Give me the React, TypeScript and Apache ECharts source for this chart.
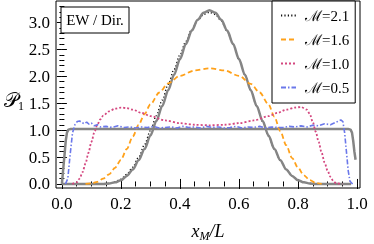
import React, { useEffect, useRef } from "react";
import * as echarts from "echarts";

// ---- data ----
const grayBellX = [0, 0.1, 0.14, 0.16, 0.18, 0.2, 0.22, 0.24, 0.26, 0.28, 0.3, 0.32, 0.34, 0.36, 0.38, 0.4, 0.42, 0.44, 0.46, 0.48, 0.5, 0.52, 0.54, 0.56, 0.58, 0.6, 0.62, 0.64, 0.66, 0.68, 0.7, 0.72, 0.74, 0.76, 0.78, 0.8, 0.82, 0.84, 0.86, 0.9, 0.98];
const grayBellY = [0, 0, 0, 0.01, 0.03, 0.07, 0.15, 0.27, 0.44, 0.65, 0.9, 1.17, 1.45, 1.74, 2.03, 2.32, 2.6, 2.85, 3.05, 3.18, 3.23, 3.18, 3.05, 2.85, 2.6, 2.32, 2.03, 1.74, 1.45, 1.17, 0.9, 0.65, 0.44, 0.27, 0.15, 0.07, 0.03, 0.01, 0, 0, 0];

const grayStepX = [0, 0.004, 0.009, 0.013, 0.017, 0.022, 0.03, 0.97, 0.978, 0.983, 0.987, 0.991, 0.995];
const grayStepY = [0, 0.25, 0.55, 0.8, 0.95, 1.01, 1.02, 1.02, 1.01, 0.95, 0.8, 0.6, 0.45];

const m21X = [0.12, 0.16, 0.18, 0.2, 0.22, 0.24, 0.26, 0.28, 0.3, 0.32, 0.34, 0.36, 0.38, 0.4, 0.42, 0.44, 0.46, 0.48, 0.5, 0.52, 0.54, 0.56, 0.58, 0.6, 0.62, 0.64, 0.66, 0.68, 0.7, 0.72, 0.74, 0.76, 0.78, 0.8, 0.82, 0.84, 0.88];
const m21Y = [0, 0.01, 0.04, 0.09, 0.18, 0.31, 0.5, 0.73, 0.99, 1.27, 1.56, 1.85, 2.13, 2.4, 2.65, 2.87, 3.04, 3.15, 3.19, 3.15, 3.03, 2.84, 2.59, 2.31, 2.02, 1.73, 1.44, 1.16, 0.89, 0.65, 0.44, 0.27, 0.15, 0.07, 0.03, 0.01, 0];

const m16X = [0.08, 0.1, 0.12, 0.14, 0.16, 0.18, 0.2, 0.22, 0.24, 0.26, 0.28, 0.3, 0.33, 0.36, 0.4, 0.45, 0.5, 0.55, 0.6, 0.64, 0.67, 0.7, 0.72, 0.74, 0.76, 0.78, 0.8, 0.82, 0.84, 0.86, 0.88];
const m16Y = [0, 0.01, 0.04, 0.1, 0.18, 0.3, 0.45, 0.65, 0.88, 1.1, 1.3, 1.48, 1.7, 1.87, 2.01, 2.11, 2.15, 2.11, 2.01, 1.86, 1.7, 1.48, 1.25, 0.98, 0.72, 0.48, 0.3, 0.16, 0.07, 0.02, 0];

const m10X = [0.035, 0.05, 0.06, 0.07, 0.08, 0.09, 0.1, 0.11, 0.12, 0.13, 0.14, 0.16, 0.18, 0.2, 0.22, 0.24, 0.27, 0.3, 0.35, 0.4, 0.45, 0.5, 0.55, 0.6, 0.65, 0.7, 0.73, 0.76, 0.79, 0.81, 0.83, 0.84, 0.85, 0.86, 0.87, 0.88, 0.89, 0.9, 0.91, 0.92, 0.93, 0.95];
const m10Y = [0, 0.03, 0.1, 0.22, 0.38, 0.58, 0.78, 0.96, 1.1, 1.2, 1.27, 1.35, 1.4, 1.42, 1.41, 1.38, 1.32, 1.26, 1.18, 1.13, 1.1, 1.09, 1.1, 1.13, 1.18, 1.26, 1.32, 1.38, 1.42, 1.43, 1.38, 1.3, 1.15, 0.97, 0.78, 0.58, 0.4, 0.25, 0.13, 0.05, 0.01, 0];

const m05X = [0.012, 0.02, 0.028, 0.036, 0.044, 0.052, 0.06, 0.068, 0.076, 0.084, 0.092, 0.1, 0.11, 0.12, 0.13, 0.15, 0.17, 0.19, 0.21, 0.23, 0.25, 0.27, 0.29, 0.31, 0.33, 0.35, 0.37, 0.39, 0.41, 0.43, 0.45, 0.47, 0.49, 0.51, 0.53, 0.55, 0.57, 0.59, 0.61, 0.63, 0.65, 0.67, 0.69, 0.71, 0.73, 0.75, 0.77, 0.79, 0.81, 0.83, 0.85, 0.87, 0.89, 0.91, 0.93, 0.945, 0.952, 0.958, 0.964, 0.97, 0.976, 0.985];
const m05Y = [0, 0.1, 0.55, 0.95, 1.1, 1.16, 1.17, 1.14, 1.12, 1.15, 1.11, 1.13, 1.08, 1.1, 1.06, 1.07, 1.05, 1.08, 1.05, 1.06, 1.04, 1.06, 1.05, 1.07, 1.04, 1.05, 1.06, 1.04, 1.07, 1.05, 1.06, 1.04, 1.07, 1.05, 1.06, 1.04, 1.05, 1.07, 1.04, 1.06, 1.05, 1.07, 1.04, 1.06, 1.05, 1.05, 1.07, 1.06, 1.08, 1.06, 1.09, 1.08, 1.12, 1.1, 1.15, 1.19, 1.16, 0.95, 0.6, 0.25, 0.05, 0];

const seriesNames = ["ℳ=2.1", "ℳ=1.6", "ℳ=1.0", "ℳ=0.5"];
const xMajorTicks = [0, 0.2, 0.4, 0.6, 0.8, 1.0];
const xMinorTicks = [0.05, 0.1, 0.15, 0.25, 0.3, 0.35, 0.45, 0.5, 0.55, 0.65, 0.7, 0.75, 0.85, 0.9, 0.95];
const yMajorTicks = [0, 0.5, 1.0, 1.5, 2.0, 2.5, 3.0];
const yMinorTicks = [0.1, 0.2, 0.3, 0.4, 0.6, 0.7, 0.8, 0.9, 1.1, 1.2, 1.3, 1.4, 1.6, 1.7, 1.8, 1.9, 2.1, 2.2, 2.3, 2.4, 2.6, 2.7, 2.8, 2.9, 3.1, 3.2, 3.3];

const X_MIN = -0.02;
const X_MAX = 1.01;
const Y_MIN = -0.075;
const Y_MAX = 3.4;

const pairs = (xs: number[], ys: number[]) => xs.map((x, i) => [x, ys[i]]);

const SERIF = "'Liberation Serif', 'DejaVu Serif', serif";

export default function App() {
  const ref = useRef<HTMLDivElement>(null);
  useEffect(() => {
    if (!ref.current) return;
    const chart = echarts.init(ref.current, undefined, { renderer: "svg" });
    const tickStyle = { color: "#000", width: 1 };
    const mkX = (position: string, ticks: number[], len: number, labels: boolean) => ({
      type: "value",
      min: X_MIN,
      max: X_MAX,
      position,
      axisLine: { show: false },
      splitLine: { show: false },
      axisTick: { show: true, inside: true, length: len, customValues: ticks, lineStyle: tickStyle },
      axisLabel: labels
        ? { show: true, customValues: ticks, formatter: (v: number) => v.toFixed(1), margin: 7, color: "#000", fontFamily: SERIF, fontSize: 17 }
        : { show: false },
    });
    const mkY = (position: string, ticks: number[], len: number, labels: boolean) => ({
      type: "value",
      min: Y_MIN,
      max: Y_MAX,
      position,
      axisLine: { show: false },
      splitLine: { show: false },
      axisTick: { show: true, inside: true, length: len, customValues: ticks, lineStyle: tickStyle },
      axisLabel: labels
        ? { show: true, customValues: ticks, formatter: (v: number) => v.toFixed(1), margin: 6, color: "#000", fontFamily: SERIF, fontSize: 17 }
        : { show: false },
    });
    const line = (name: string, data: number[][], color: string, width: number, type: any, smooth: number, z: number) => ({
      name,
      type: "line",
      data,
      showSymbol: false,
      symbol: "none",
      smooth,
      smoothMonotone: "x",
      z,
      lineStyle: { color, width, type, cap: "butt" },
      itemStyle: { color },
    });
    chart.setOption({
      animation: false,
      grid: { left: 56, right: 14, top: 1, bottom: 56, show: true, borderColor: "#000", borderWidth: 1, backgroundColor: "transparent" },
      xAxis: [
        mkX("bottom", xMajorTicks, 5, true),
        mkX("bottom", xMinorTicks, 2.5, false),
        mkX("top", xMajorTicks, 5, false),
        mkX("top", xMinorTicks, 2.5, false),
      ],
      yAxis: [
        mkY("left", yMajorTicks, 5, true),
        mkY("left", yMinorTicks, 2.5, false),
        mkY("right", yMajorTicks, 5, false),
        mkY("right", yMinorTicks, 2.5, false),
      ],
      legend: {
        data: seriesNames,
        orient: "vertical",
        left: 272,
        top: 1,
        padding: [7, 6, 8, 8],
        itemGap: 9,
        itemWidth: 15,
        itemHeight: 17,
        borderColor: "#000",
        borderWidth: 1,
        borderRadius: 0,
        backgroundColor: "#fff",
        itemStyle: { opacity: 0 },
        textStyle: { fontFamily: SERIF, fontSize: 15, color: "#000", padding: [0, 0, 0, 4] },
      },
      series: [
        line("grayStep", pairs(grayStepX, grayStepY), "#858585", 2.5, "solid", 0, 3),
        line("grayBell", pairs(grayBellX, grayBellY), "#858585", 2.5, "solid", 0.3, 3),
        line(seriesNames[0], pairs(m21X, m21Y), "#111", 1.4, [1.2, 2.2], 0.3, 2),
        line(seriesNames[1], pairs(m16X, m16Y), "#ffa11a", 1.8, [5, 3], 0.3, 4),
        line(seriesNames[2], pairs(m10X, m10Y), "#d4477f", 1.8, [2, 2], 0.3, 4),
        line(seriesNames[3], pairs(m05X, m05Y), "#6b78ea", 1.6, [5, 2, 1.5, 2], 0, 4),
      ],
      graphic: [
        { type: "rect", shape: { x: 61, y: 7, width: 68, height: 26 }, style: { fill: "#fff", stroke: "#000", lineWidth: 1 }, z: 10 },
        { type: "text", x: 95, y: 20, style: { text: "EW / Dir.", fontFamily: SERIF, fontSize: 15, fill: "#000", align: "center", verticalAlign: "middle" }, z: 11 },
        {
          type: "text",
          x: 14,
          y: 100,
          style: {
            text: "{p|𝒫}{s|1}",
            align: "center",
            verticalAlign: "middle",
            rich: {
              p: { fontFamily: SERIF, fontSize: 20, fill: "#000", lineHeight: 24 },
              s: { fontFamily: SERIF, fontSize: 12, fill: "#000", lineHeight: 24, verticalAlign: "bottom", padding: [8, 0, 0, 0] },
            },
          },
        },
        {
          type: "text",
          x: 208,
          y: 231,
          style: {
            text: "{i|x}{s|M}{i|/L}",
            align: "center",
            verticalAlign: "middle",
            rich: {
              i: { fontFamily: SERIF, fontSize: 18, fontStyle: "italic", fill: "#000", lineHeight: 22 },
              s: { fontFamily: SERIF, fontSize: 12, fontStyle: "italic", fill: "#000", lineHeight: 22, verticalAlign: "bottom", padding: [6, 0, 0, 0] },
            },
          },
        },
      ],
    });
    return () => chart.dispose();
  }, []);
  return <div ref={ref} style={{ position: "fixed", left: 0, top: 0, width: 374, height: 244 }} />;
}
